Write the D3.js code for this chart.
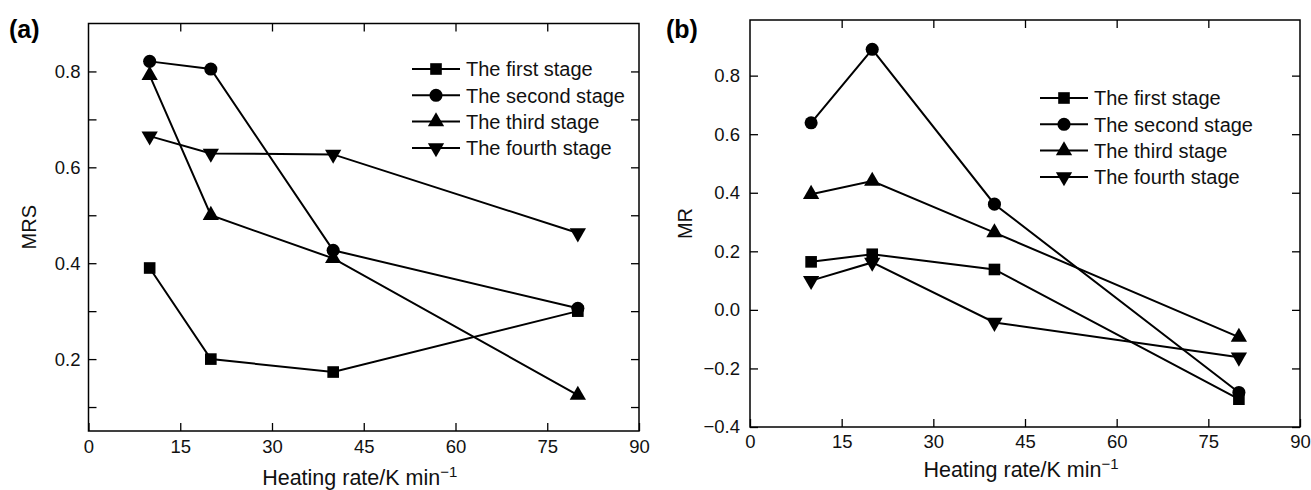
<!DOCTYPE html>
<html><head><meta charset="utf-8">
<script src="https://cdn.jsdelivr.net/npm/d3@7"></script>
<style>body{margin:0;background:#fff}svg{display:block;font-family:"Liberation Sans",Arial,sans-serif}</style>
</head><body><svg id="c" width="1311" height="490"></svg>
<script>
const heatingRates = [10, 20, 40, 80];
const seriesNames = ["The first stage", "The second stage", "The third stage", "The fourth stage"];
const markerTypes = ["square", "circle", "triangleUp", "triangleDown"];
// Panel (a) MRS
const mrsFirst  = [0.39, 0.20, 0.173, 0.30];
const mrsSecond = [0.821, 0.805, 0.427, 0.306];
const mrsThird  = [0.792, 0.50, 0.41, 0.125];
const mrsFourth = [0.665, 0.629, 0.627, 0.463];
// Panel (b) MR
const mrFirst  = [0.164, 0.19, 0.138, -0.305];
const mrSecond = [0.639, 0.89, 0.361, -0.282];
const mrThird  = [0.395, 0.44, 0.264, -0.093];
const mrFourth = [0.10, 0.162, -0.043, -0.162];
const xTicks = [0, 15, 30, 45, 60, 75, 90];
const mrsTicks = [0.2, 0.4, 0.6, 0.8];
const mrsMinorTicks = [0.1, 0.3, 0.5, 0.7];
const mrTicks = [-0.4, -0.2, 0.0, 0.2, 0.4, 0.6, 0.8];

const svg = d3.select("#c");
const fmt = v => (v < 0 ? "\u2212" : "") + Math.abs(v).toFixed(1);

function markerPath(type, size) {
  const m = {square: d3.symbolSquare, circle: d3.symbolCircle, triangleUp: d3.symbolTriangle};
  if (type === "triangleDown") return {d: d3.symbol(d3.symbolTriangle, size)(), rot: 180};
  return {d: d3.symbol(m[type], size)(), rot: 0};
}
const sizes = {square: 135, circle: 135, triangleUp: 115, triangleDown: 115};

function panel(cfg) {
  const x = d3.scaleLinear().domain([0, 90]).range([cfg.left, cfg.right]);
  const y = d3.scaleLinear().domain(cfg.ydom).range([cfg.bottom, cfg.top]);
  const g = svg.append("g");
  const tl = 8;
  g.append("rect").attr("x", cfg.left).attr("y", cfg.top)
    .attr("width", cfg.right - cfg.left).attr("height", cfg.bottom - cfg.top)
    .attr("fill", "none").attr("stroke", "#000").attr("stroke-width", 1.5);
  const ax = g.append("g").attr("transform", `translate(0,${cfg.bottom})`)
    .call(d3.axisBottom(x).tickValues(xTicks).tickSizeInner(-tl).tickSizeOuter(0).tickPadding(cfg.xPad).tickFormat(d3.format("d")));
  g.append("g").attr("transform", `translate(0,${cfg.top})`)
    .call(d3.axisTop(x).tickValues(xTicks.slice(1, -1)).tickSizeInner(-tl).tickSizeOuter(0).tickFormat(""));
  g.append("g").attr("transform", `translate(${cfg.left},0)`)
    .call(d3.axisLeft(y).tickValues(cfg.yTicks).tickSizeInner(-tl).tickSizeOuter(0).tickPadding(cfg.yPad).tickFormat(fmt));
  g.append("g").attr("transform", `translate(${cfg.right},0)`)
    .call(d3.axisRight(y).tickValues(cfg.yTicks).tickSizeInner(-tl).tickSizeOuter(0).tickFormat(""));
  if (cfg.yMinor) {
    g.append("g").attr("transform", `translate(${cfg.left},0)`)
      .call(d3.axisLeft(y).tickValues(cfg.yMinor).tickSizeInner(-tl).tickSizeOuter(0).tickFormat(""));
    g.append("g").attr("transform", `translate(${cfg.right},0)`)
      .call(d3.axisRight(y).tickValues(cfg.yMinor).tickSizeInner(-tl).tickSizeOuter(0).tickFormat(""));
  }
  g.selectAll(".domain").remove();
  g.selectAll(".tick line").attr("stroke", "#000").attr("stroke-width", 1.3);
  g.selectAll(".tick text").attr("font-size", 18.5).attr("fill", "#111")
    .attr("font-family", "Liberation Sans, Arial, sans-serif");
  ax.selectAll(".tick text").attr("dy", "0.71em");
  g.append("text").attr("x", cfg.labelX).attr("y", 38).attr("font-size", 25).attr("font-weight", "bold")
    .text(cfg.label);
  g.append("text").attr("transform", `translate(${cfg.yTitleX},${(cfg.top + cfg.bottom) / 2}) rotate(-90)`)
    .attr("text-anchor", "middle").attr("font-size", 20).attr("fill", "#111").text(cfg.yTitle);
  const xt = g.append("text").attr("x", (cfg.left + cfg.right) / 2 - 4).attr("y", cfg.xTitleY)
    .attr("text-anchor", "middle").attr("font-size", 21.5).attr("fill", "#111");
  xt.append("tspan").text("Heating rate/K min");
  xt.append("tspan").attr("font-size", 15).attr("dy", -8).text("\u22121");
  const line = d3.line().x((d, i) => x(heatingRates[i])).y(d => y(d));
  cfg.series.forEach((vals, si) => {
    g.append("path").attr("d", line(vals)).attr("fill", "none").attr("stroke", "#000").attr("stroke-width", 2);
    const mk = markerPath(markerTypes[si], sizes[markerTypes[si]]);
    g.selectAll(null).data(vals).enter().append("path")
      .attr("d", mk.d).attr("fill", "#000")
      .attr("transform", (d, i) => `translate(${x(heatingRates[i])},${y(d)}) rotate(${mk.rot})`);
  });
  seriesNames.forEach((name, si) => {
    const ly = cfg.legY + si * cfg.legDy;
    g.append("line").attr("x1", cfg.legX).attr("x2", cfg.legX + 48).attr("y1", ly).attr("y2", ly)
      .attr("stroke", "#000").attr("stroke-width", 2);
    const mk = markerPath(markerTypes[si], sizes[markerTypes[si]]);
    g.append("path").attr("d", mk.d).attr("fill", "#000")
      .attr("transform", `translate(${cfg.legX + 24},${ly}) rotate(${mk.rot})`);
    g.append("text").attr("x", cfg.legX + 54).attr("y", ly).attr("dy", "0.36em")
      .attr("font-size", 20).attr("fill", "#111").text(name);
  });
}

panel({left: 88.5, right: 639, top: 23.5, bottom: 431, ydom: [0.05, 0.9], yTicks: mrsTicks, yMinor: mrsMinorTicks,
  label: "(a)", labelX: 9, yTitle: "MRS", yTitleX: 36, xTitleY: 485, xPad: 9, yPad: 8,
  series: [mrsFirst, mrsSecond, mrsThird, mrsFourth], legX: 412, legY: 69, legDy: 26.3});
panel({left: 750, right: 1300, top: 20, bottom: 427, ydom: [-0.4, 0.99], yTicks: mrTicks, yMinor: null,
  label: "(b)", labelX: 666, yTitle: "MR", yTitleX: 692, xTitleY: 477, xPad: 8, yPad: 10,
  series: [mrFirst, mrSecond, mrThird, mrFourth], legX: 1040, legY: 98, legDy: 26.3});
</script></body></html>
